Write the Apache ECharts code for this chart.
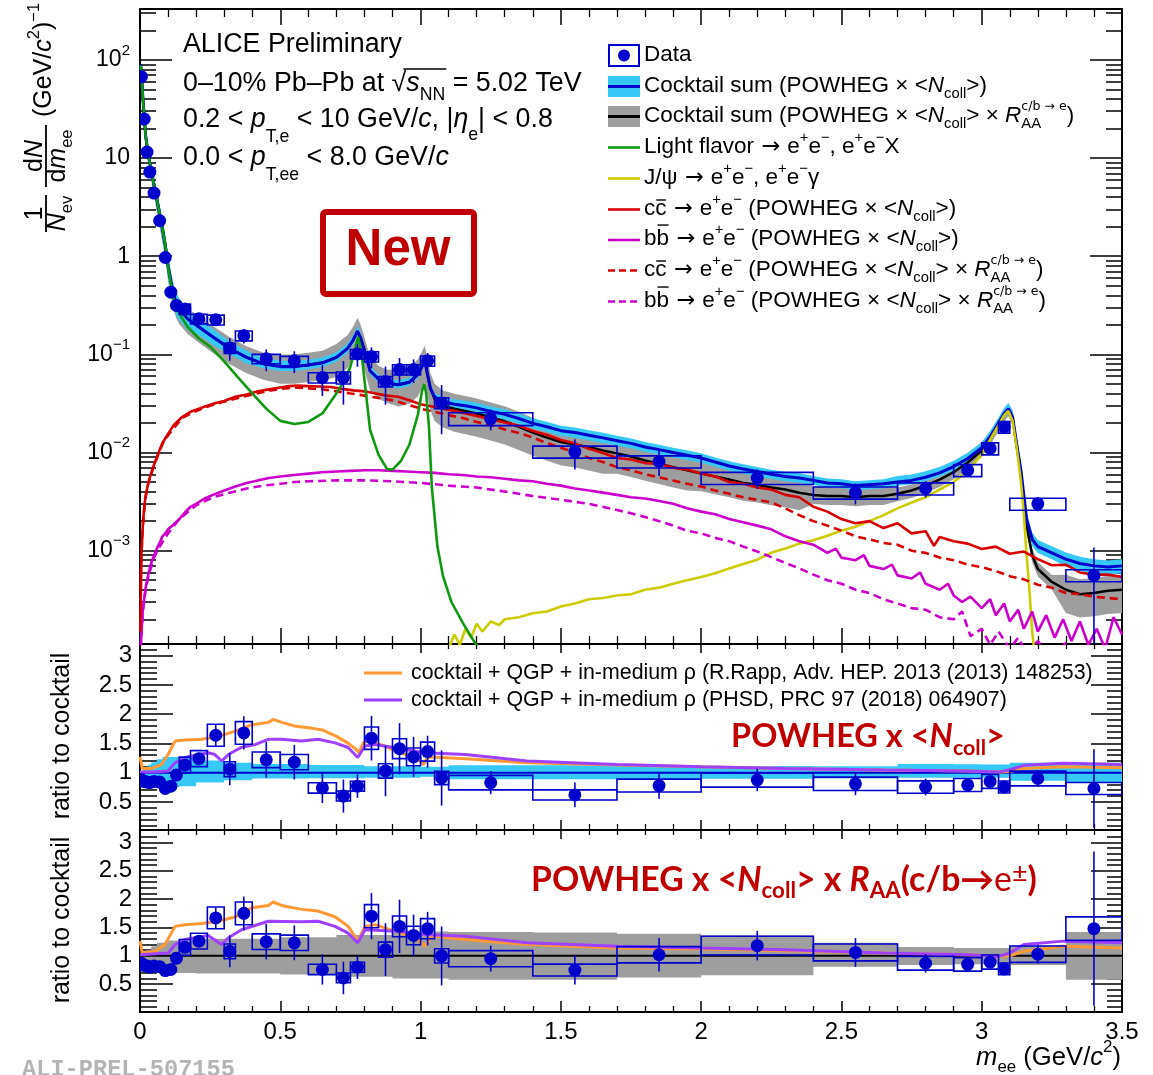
<!DOCTYPE html>
<html>
<head>
<meta charset="utf-8">
<title>ALICE dielectron spectrum</title>
<script src="https://cdn.jsdelivr.net/npm/echarts@6/dist/echarts.min.js"></script>
<style>
html,body{margin:0;padding:0;background:#ffffff;}
#chart{width:1153px;height:1075px;}
</style>
</head>
<body>
<div id="chart"></div>
<script>
// ===================== DATA =====================
const binLo = [0,0.01,0.02,0.03,0.04,0.06,0.08,0.10,0.12,0.14,0.18,0.24,0.30,0.34,0.40,0.50,0.60,0.70,0.75,0.80,0.85,0.90,0.95,1.00,1.05,1.10,1.40,1.70,2.00,2.40,2.70,2.90,3.00,3.06,3.10,3.30];
const binHi = [0.01,0.02,0.03,0.04,0.06,0.08,0.10,0.12,0.14,0.18,0.24,0.30,0.34,0.40,0.50,0.60,0.70,0.75,0.80,0.85,0.90,0.95,1.00,1.05,1.10,1.40,1.70,2.00,2.40,2.70,2.90,3.00,3.06,3.10,3.30,3.50];
const massPt = [0.005,0.015,0.025,0.035,0.05,0.07,0.09,0.11,0.13,0.16,0.21,0.27,0.32,0.37,0.45,0.55,0.65,0.725,0.775,0.825,0.875,0.925,0.975,1.025,1.075,1.25,1.55,1.85,2.2,2.55,2.8,2.95,3.03,3.08,3.2,3.4];
const yieldData = [67.5,25,11.5,7.2,4.4,2.3,0.97,0.43,0.315,0.29,0.23,0.225,0.116,0.155,0.090,0.086,0.058,0.058,0.101,0.095,0.053,0.070,0.070,0.086,0.032,0.0221,0.0102,0.0081,0.0055,0.0039,0.0043,0.0066,0.011,0.0182,0.0030,0.00056];
const statRel = [0.02,0.02,0.02,0.03,0.03,0.03,0.04,0.04,0.04,0.04,0.08,0.11,0.26,0.17,0.25,0.25,0.35,0.47,0.26,0.24,0.42,0.31,0.27,0.20,0.52,0.24,0.34,0.29,0.22,0.24,0.19,0.12,0.10,0.10,0.16,0.92];
const sysRel = [0.04,0.04,0.04,0.04,0.05,0.06,0.07,0.08,0.09,0.12,0.11,0.115,0.12,0.115,0.11,0.11,0.12,0.14,0.11,0.12,0.12,0.12,0.12,0.12,0.125,0.15,0.14,0.14,0.14,0.14,0.14,0.14,0.14,0.135,0.14,0.14];
const ratioPowheg = [0.88,0.85,0.84,0.83,0.85,0.84,0.73,0.77,0.96,1.13,1.24,1.64,1.06,1.68,1.22,1.18,0.74,0.60,0.77,1.59,1.03,1.41,1.27,1.36,0.91,0.83,0.62,0.78,0.875,0.81,0.755,0.79,0.85,0.755,0.90,0.73];
const ratioRaa = [0.87,0.83,0.82,0.80,0.82,0.81,0.74,0.76,0.96,1.15,1.26,1.67,1.08,1.75,1.25,1.23,0.76,0.61,0.80,1.70,1.11,1.52,1.36,1.48,1.0,0.95,0.75,1.02,1.18,1.06,0.87,0.85,0.89,0.77,1.03,1.48];

// cocktail sums (same mass grid for both)
const sumX = [0.002,0.005,0.01,0.02,0.03,0.04,0.05,0.06,0.07,0.08,0.09,0.10,0.11,0.12,0.13,0.14,0.17,0.21,0.26,0.32,0.38,0.44,0.50,0.55,0.60,0.65,0.70,0.74,0.76,0.775,0.785,0.80,0.82,0.85,0.88,0.92,0.96,0.99,1.005,1.015,1.025,1.035,1.05,1.08,1.12,1.16,1.2,1.25,1.3,1.35,1.4,1.45,1.5,1.55,1.6,1.65,1.7,1.75,1.8,1.85,1.9,1.95,2.0,2.05,2.1,2.15,2.2,2.25,2.3,2.35,2.4,2.45,2.5,2.55,2.6,2.65,2.7,2.75,2.8,2.85,2.9,2.95,3.0,3.03,3.06,3.08,3.095,3.11,3.125,3.14,3.16,3.18,3.2,3.25,3.3,3.35,3.4,3.45,3.5];
const sumPowheg = [90,75,42,17,10.5,7.5,5.3,3.8,2.7,1.9,1.3,0.80,0.55,0.40,0.33,0.29,0.23,0.19,0.150,0.115,0.093,0.080,0.075,0.075,0.078,0.082,0.093,0.115,0.140,0.172,0.150,0.110,0.068,0.056,0.051,0.049,0.052,0.062,0.075,0.086,0.062,0.045,0.037,0.033,0.031,0.030,0.0285,0.0262,0.0245,0.0222,0.0198,0.0183,0.0167,0.0160,0.0150,0.0141,0.0132,0.0124,0.0114,0.0107,0.0100,0.0094,0.0088,0.0080,0.0073,0.0068,0.0064,0.0060,0.0057,0.0055,0.0052,0.0049,0.0048,0.0046,0.0047,0.0048,0.0050,0.0052,0.0056,0.0062,0.0072,0.0087,0.0112,0.0145,0.0200,0.0250,0.0280,0.0230,0.0120,0.0065,0.0021,0.0013,0.0011,0.00095,0.00082,0.00074,0.00070,0.00068,0.00070];
const sumRaa = [90,75,42,17,10.5,7.5,5.3,3.8,2.7,1.9,1.3,0.80,0.55,0.40,0.33,0.29,0.23,0.19,0.150,0.115,0.093,0.080,0.075,0.075,0.078,0.082,0.093,0.115,0.140,0.172,0.150,0.110,0.068,0.056,0.051,0.049,0.052,0.062,0.075,0.086,0.062,0.045,0.035,0.030,0.028,0.0265,0.0250,0.0228,0.0208,0.0183,0.0160,0.0142,0.0128,0.0121,0.0113,0.0105,0.0098,0.0091,0.0083,0.0077,0.0071,0.0066,0.0061,0.0057,0.0053,0.0049,0.0047,0.0044,0.0042,0.0039,0.0037,0.0036,0.0036,0.0035,0.0036,0.0036,0.0038,0.0041,0.0046,0.0053,0.0063,0.0079,0.0105,0.0140,0.0195,0.0245,0.0275,0.0225,0.0115,0.0060,0.0018,0.0009,0.00065,0.00048,0.00040,0.00036,0.00037,0.00039,0.00040];

// relative uncertainty bands (step segments), POWHEG x Ncoll and with RAA
const bandPowEdges = [0,0.01,0.02,0.03,0.04,0.06,0.08,0.14,0.2,0.3,0.4,0.6,0.8,1.0,1.1,1.4,1.7,2.0,2.4,2.7,2.9,3.0,3.1,3.3,3.5];
const bandPowHi = [1.02,1.06,1.1,1.14,1.18,1.23,1.27,1.26,1.21,1.17,1.15,1.13,1.11,1.1,1.125,1.125,1.12,1.115,1.11,1.15,1.145,1.14,1.17,1.17];
const bandPowLo = [0.98,0.95,0.92,0.9,0.86,0.81,0.75,0.77,0.83,0.87,0.9,0.905,0.915,0.93,0.886,0.886,0.89,0.895,0.9,0.915,0.915,0.915,0.86,0.84];
const bandRaaEdges = [0,0.01,0.02,0.04,0.06,0.1,0.2,0.5,0.7,0.9,1.1,1.4,1.7,2.0,2.4,2.7,2.9,3.1,3.3,3.5];
const bandRaaHi = [1.02,1.05,1.1,1.17,1.23,1.27,1.3,1.33,1.37,1.43,1.42,1.41,1.39,1.36,1.23,1.155,1.14,1.18,1.42];
const bandRaaLo = [0.98,0.94,0.88,0.8,0.73,0.7,0.69,0.67,0.63,0.6,0.58,0.58,0.62,0.66,0.81,0.84,0.85,0.84,0.58];

// light flavour
const lfX = [0.002,0.005,0.01,0.02,0.03,0.04,0.05,0.06,0.07,0.08,0.09,0.10,0.11,0.12,0.13,0.14,0.17,0.21,0.25,0.3,0.35,0.4,0.45,0.5,0.55,0.6,0.65,0.7,0.73,0.75,0.765,0.778,0.79,0.80,0.82,0.85,0.88,0.9,0.93,0.96,0.99,1.005,1.013,1.02,1.03,1.04,1.06,1.08,1.11,1.15,1.19,1.22];
const lfY = [88,75,42,17,10.5,7.5,5.3,3.8,2.7,1.9,1.3,0.78,0.52,0.37,0.30,0.26,0.19,0.145,0.12,0.085,0.058,0.040,0.028,0.021,0.0195,0.0205,0.025,0.040,0.055,0.075,0.11,0.15,0.10,0.055,0.017,0.0095,0.0068,0.0067,0.0082,0.012,0.024,0.042,0.050,0.040,0.018,0.0045,0.0011,0.00055,0.00030,0.000185,0.00012,0.00009];
// J/psi
const jpsiX = [1.10,1.12,1.14,1.16,1.18,1.2,1.22,1.25,1.28,1.3,1.35,1.4,1.45,1.5,1.55,1.6,1.65,1.7,1.75,1.8,1.85,1.9,1.95,2.0,2.05,2.1,2.15,2.2,2.25,2.3,2.35,2.4,2.45,2.5,2.55,2.6,2.65,2.7,2.75,2.8,2.85,2.9,2.95,3.0,3.03,3.06,3.08,3.095,3.11,3.125,3.14,3.15,3.16,3.17,3.18,3.19];
const jpsiY = [1.0e-4,1.4e-4,1.1e-4,1.6e-4,1.3e-4,1.8e-4,1.5e-4,1.9e-4,1.75e-4,2.0e-4,2.1e-4,2.3e-4,2.4e-4,2.7e-4,2.9e-4,3.2e-4,3.3e-4,3.5e-4,3.6e-4,4.0e-4,4.2e-4,4.6e-4,5.0e-4,5.4e-4,5.9e-4,6.6e-4,7.3e-4,8.1e-4,9.5e-4,1.05e-3,1.18e-3,1.28e-3,1.42e-3,1.6e-3,1.75e-3,2.0e-3,2.3e-3,2.7e-3,3.1e-3,3.5e-3,4.2e-3,5.0e-3,6.5e-3,9.5e-3,0.0135,0.019,0.024,0.0265,0.021,0.011,0.005,0.0024,9e-4,4e-4,1.5e-4,8e-5];
// c cbar (POWHEG x Ncoll)
const ccX = [0.001,0.005,0.01,0.015,0.02,0.03,0.04,0.05,0.065,0.08,0.1,0.12,0.15,0.18,0.21,0.24,0.27,0.3,0.34,0.38,0.42,0.46,0.5,0.53,0.56,0.6,0.64,0.68,0.72,0.76,0.8,0.84,0.88,0.92,0.96,1.0,1.04,1.08,1.12,1.16,1.2,1.25,1.3,1.35,1.4,1.45,1.5,1.55,1.6,1.65,1.7,1.75,1.8,1.85,1.9,1.95,2.0,2.05,2.1,2.15,2.2,2.25,2.3,2.35,2.4,2.45,2.5,2.55,2.6,2.65,2.7,2.75,2.8,2.83,2.85,2.9,2.95,3.0,3.05,3.1,3.15,3.2,3.25,3.3,3.35,3.4,3.45,3.5];
const ccY = [1.5e-4,9e-4,0.0018,0.0028,0.0036,0.0050,0.0062,0.0075,0.0098,0.0125,0.0155,0.019,0.023,0.026,0.028,0.030,0.032,0.0335,0.037,0.039,0.042,0.044,0.046,0.0475,0.048,0.0475,0.047,0.0465,0.0445,0.043,0.042,0.040,0.038,0.037,0.034,0.031,0.0295,0.028,0.0265,0.025,0.0235,0.0218,0.0202,0.0187,0.0166,0.0152,0.0134,0.0124,0.0109,0.0099,0.0088,0.0085,0.0078,0.0077,0.0070,0.0067,0.0061,0.0057,0.0050,0.0048,0.0044,0.0042,0.0037,0.0035,0.0028,0.0025,0.0021,0.0019,0.0020,0.00170,0.0019,0.00150,0.00158,0.00112,0.00138,0.00125,0.00118,0.00104,0.00110,0.00093,0.00098,0.00082,0.00071,0.00072,0.00060,0.00057,0.00057,0.00054];
// b bbar (POWHEG x Ncoll)
const bbX = [0.002,0.01,0.02,0.03,0.04,0.05,0.06,0.07,0.08,0.09,0.1,0.12,0.14,0.16,0.18,0.2,0.23,0.26,0.3,0.34,0.38,0.42,0.46,0.5,0.55,0.6,0.65,0.7,0.75,0.8,0.85,0.9,0.95,1.0,1.05,1.1,1.15,1.2,1.25,1.3,1.35,1.4,1.45,1.5,1.55,1.6,1.65,1.7,1.75,1.8,1.85,1.9,1.95,2.0,2.05,2.1,2.15,2.2,2.25,2.3,2.35,2.4,2.45,2.48,2.5,2.55,2.58,2.6,2.65,2.68,2.7,2.75,2.78,2.8,2.85,2.88,2.9,2.93,2.96,3.0,3.03,3.05,3.08,3.1,3.13,3.15,3.18,3.2,3.23,3.26,3.29,3.32,3.35,3.38,3.41,3.44,3.47,3.5];
const bbY = [1e-4,2.5e-4,4.2e-4,5.8e-4,7.5e-4,9e-4,1.05e-3,1.2e-3,1.4e-3,1.5e-3,1.65e-3,1.85e-3,2.1e-3,2.45e-3,2.8e-3,3.0e-3,3.4e-3,3.7e-3,4.1e-3,4.5e-3,4.9e-3,5.2e-3,5.5e-3,5.7e-3,5.9e-3,6.1e-3,6.3e-3,6.4e-3,6.5e-3,6.6e-3,6.6e-3,6.5e-3,6.4e-3,6.3e-3,6.2e-3,6.0e-3,5.9e-3,5.7e-3,5.6e-3,5.4e-3,5.2e-3,5.1e-3,4.8e-3,4.6e-3,4.3e-3,4.1e-3,3.9e-3,3.7e-3,3.5e-3,3.4e-3,3.2e-3,3.0e-3,2.7e-3,2.5e-3,2.35e-3,2.1e-3,1.95e-3,1.8e-3,1.65e-3,1.4e-3,1.25e-3,1.15e-3,9.5e-4,1.05e-3,8.5e-4,8.0e-4,9.0e-4,7.0e-4,6.5e-4,7.2e-4,5.6e-4,5.2e-4,6.0e-4,4.6e-4,4.0e-4,4.6e-4,3.5e-4,3.0e-4,3.4e-4,2.6e-4,3.2e-4,2.2e-4,2.9e-4,1.9e-4,2.5e-4,1.6e-4,2.4e-4,1.5e-4,2.2e-4,1.3e-4,2.0e-4,1.2e-4,1.9e-4,1.1e-4,1.6e-4,1.0e-4,2.1e-4,1.4e-4];
// c cbar with RAA
const ccRaaX = [0.002,0.005,0.01,0.02,0.03,0.05,0.08,0.1,0.15,0.2,0.25,0.3,0.35,0.4,0.45,0.5,0.55,0.6,0.65,0.7,0.75,0.8,0.85,0.9,0.95,1.0,1.05,1.1,1.15,1.2,1.25,1.3,1.35,1.4,1.45,1.5,1.55,1.6,1.65,1.7,1.75,1.8,1.85,1.9,1.95,2.0,2.05,2.1,2.15,2.2,2.25,2.3,2.35,2.4,2.45,2.5,2.55,2.6,2.65,2.7,2.75,2.8,2.85,2.9,2.95,3.0,3.05,3.1,3.15,3.2,3.25,3.3,3.35,3.4,3.45,3.5];
const ccRaaY = [4e-4,9e-4,0.0018,0.0035,0.0049,0.0074,0.0122,0.0150,0.0225,0.0265,0.030,0.033,0.036,0.039,0.042,0.0445,0.046,0.045,0.044,0.042,0.040,0.038,0.036,0.034,0.031,0.028,0.026,0.024,0.0225,0.0205,0.019,0.0172,0.0158,0.0142,0.0125,0.0112,0.0100,0.0088,0.0080,0.0071,0.0066,0.0060,0.0056,0.0052,0.0048,0.0045,0.0041,0.0038,0.0035,0.0033,0.0031,0.0027,0.0023,0.0020,0.0018,0.0016,0.0014,0.0013,0.0012,0.00115,0.00100,0.00095,0.00085,0.00080,0.00072,0.00068,0.00062,0.00055,0.00051,0.00045,0.00042,0.00037,0.00036,0.00034,0.00033,0.00032];
// b bbar with RAA
const bbRaaX = [0.002,0.01,0.02,0.03,0.05,0.07,0.1,0.14,0.2,0.26,0.32,0.38,0.44,0.5,0.55,0.6,0.7,0.8,0.9,1.0,1.1,1.2,1.3,1.4,1.5,1.6,1.7,1.75,1.8,1.85,1.9,1.95,2.0,2.05,2.1,2.15,2.2,2.25,2.3,2.35,2.4,2.45,2.5,2.55,2.6,2.65,2.7,2.75,2.8,2.85,2.9,2.93,2.96,3.0,3.03,3.06,3.1,3.13,3.16,3.2,3.25,3.3,3.35,3.4,3.45,3.5];
const bbRaaY = [1e-4,2.4e-4,4e-4,5.5e-4,8.5e-4,1.1e-3,1.5e-3,2.1e-3,2.9e-3,3.5e-3,3.9e-3,4.3e-3,4.6e-3,4.8e-3,5.0e-3,5.1e-3,5.2e-3,5.2e-3,5.1e-3,4.9e-3,4.6e-3,4.4e-3,4.0e-3,3.6e-3,3.3e-3,3.0e-3,2.6e-3,2.4e-3,2.2e-3,2.0e-3,1.8e-3,1.6e-3,1.5e-3,1.35e-3,1.25e-3,1.1e-3,9.8e-4,8.6e-4,7.5e-4,6.6e-4,5.7e-4,5.0e-4,4.6e-4,4.0e-4,3.7e-4,3.2e-4,2.9e-4,2.6e-4,2.5e-4,2.1e-4,2.0e-4,2.4e-4,1.35e-4,1.6e-4,1.1e-4,1.5e-4,1.0e-4,1.3e-4,9e-5,1.2e-4,8e-5,1.15e-4,8e-5,1.0e-4,7e-5,9e-5];

// model ratios (Rapp = orange, PHSD = purple)
const rappPowX = [0.0,0.008,0.04,0.077,0.10,0.125,0.16,0.22,0.28,0.34,0.40,0.457,0.475,0.505,0.55,0.60,0.65,0.70,0.74,0.77,0.78,0.796,0.814,0.87,0.93,0.99,1.01,1.027,1.075,1.16,1.38,1.7,2.0,2.3,2.65,2.95,3.06,3.1,3.15,3.29,3.5];
const rappPowY = [1.27,1.07,1.07,1.14,1.31,1.54,1.56,1.57,1.62,1.71,1.82,1.86,1.91,1.86,1.80,1.77,1.73,1.62,1.51,1.40,1.34,1.51,1.54,1.46,1.34,1.23,1.14,1.27,1.26,1.24,1.17,1.13,1.10,1.07,1.045,1.03,1.01,1.02,1.07,1.10,1.085];
const phsdPowX = [0.0,0.05,0.10,0.125,0.16,0.21,0.243,0.267,0.291,0.315,0.36,0.41,0.457,0.505,0.576,0.635,0.695,0.742,0.776,0.802,0.837,0.93,1.015,1.16,1.38,1.7,2.0,2.3,2.65,2.95,3.06,3.1,3.15,3.29,3.5];
const phsdPowY = [1.01,1.01,1.03,1.17,1.26,1.31,1.34,1.31,1.20,1.31,1.43,1.48,1.57,1.57,1.54,1.57,1.51,1.43,1.26,1.455,1.48,1.41,1.34,1.31,1.20,1.14,1.10,1.07,1.045,1.03,1.01,1.05,1.125,1.16,1.14];
const rappRaaX = [0.0,0.008,0.054,0.089,0.125,0.16,0.22,0.28,0.34,0.40,0.457,0.475,0.505,0.576,0.635,0.695,0.742,0.776,0.802,0.837,0.93,0.99,1.015,1.039,1.16,1.38,1.7,2.0,2.3,2.65,2.95,3.06,3.1,3.15,3.29,3.5];
const rappRaaY = [1.26,1.05,1.08,1.2,1.52,1.55,1.57,1.61,1.69,1.85,1.89,1.95,1.89,1.82,1.79,1.69,1.52,1.26,1.52,1.55,1.40,1.29,1.17,1.35,1.29,1.2,1.14,1.12,1.09,1.05,1.02,0.99,1.0,1.08,1.17,1.14];
const phsdRaaX = [0.0,0.101,0.125,0.16,0.243,0.291,0.315,0.362,0.457,0.576,0.635,0.695,0.742,0.776,0.802,0.93,1.015,1.16,1.38,1.7,2.0,2.3,2.65,2.95,3.06,3.1,3.15,3.29,3.5];
const phsdRaaY = [1.02,1.05,1.2,1.29,1.36,1.2,1.32,1.46,1.61,1.60,1.61,1.52,1.40,1.23,1.46,1.43,1.375,1.345,1.23,1.17,1.14,1.11,1.05,1.02,0.99,1.05,1.2,1.26,1.23];

// axis ticks / labels
const topMajorTicks = [1e-3,1e-2,1e-1,1,10,100];
const ratioMajorTicks = [0.5,1,1.5,2,2.5,3];
const YMIN = 1.12e-4, YMAX = 330;

// ===================== STYLE / HELPERS =====================
const F = '"Liberation Sans", Arial, Helvetica, sans-serif';
const DJ = '"DejaVu Sans", sans-serif';
const BLUE = '#0000cc', CYAN = '#36c8f6', GRAY = '#9e9e9e';
const GREEN = '#0f990f', YELLOW = '#cccc00', RED = '#d60000', MAG = '#cc00cc';
const ORANGE = '#ff9933', PURPLE = '#a040ff', DARKRED = '#c00000';

const topMinorTicks = [];
for (let e = -4; e <= 2; e++) for (let m = 2; m <= 9; m++) { const v = m * Math.pow(10, e); if (v > YMIN && v < YMAX) topMinorTicks.push(v); }
const ratioMinorTicks = [];
for (let k = 1; k <= 31; k++) if (k % 5) ratioMinorTicks.push(k / 10);

const mctx = document.createElement('canvas').getContext('2d');
function tw(t, font) { mctx.font = font; return mctx.measureText(t).width; }

// parts: [text, kinds, dyOverride, sizeScale, familyOverride]
function seq(x0, y0, fs, parts, o) {
  o = o || {};
  const col = o.col || '#000';
  const ss = o.ss || 0.66;
  const sdy = o.sdy !== undefined ? o.sdy : 0.36 * fs;
  const pdy = o.pdy !== undefined ? o.pdy : -0.40 * fs;
  let cx = x0, pend = null;
  const els = [], pos = [], ws = [];
  parts.forEach(p => {
    const t = p[0], k = p[1] || '';
    const fam = p[4] || o.fam || F;
    const isS = k.indexOf('s') >= 0, isP = k.indexOf('p') >= 0;
    const size = (isS || isP) ? fs * (p[3] || ss) : fs * (p[3] || 1);
    const it = k.indexOf('i') >= 0;
    const bd = k.indexOf('R') >= 0 ? false : (!!o.bold || k.indexOf('B') >= 0);
    const fStyle = it ? 'italic' : 'normal', fWeight = bd ? 'bold' : 'normal';
    const w = tw(t, fStyle + ' ' + fWeight + ' ' + size + 'px ' + fam);
    let dy = isS ? sdy : isP ? pdy : 0;
    if (p[2] !== undefined && p[2] !== null) dy = p[2];
    els.push({type: 'text', x: cx, y: y0 + dy, silent: true, z: 100,
      style: {text: t, fill: col, fontSize: size, fontFamily: fam, fontStyle: fStyle, fontWeight: fWeight, align: 'left', verticalAlign: 'middle'}});
    if (k.indexOf('o') >= 0 || k.indexOf('q') >= 0) {
      const oy = y0 - (k.indexOf('o') >= 0 ? 0.62 : 0.40) * fs;
      els.push({type: 'line', silent: true, z: 100, shape: {x1: cx + 1, y1: oy, x2: cx + w - 0.5, y2: oy}, style: {stroke: col, lineWidth: 1.4}});
    }
    pos.push(cx); ws.push(w);
    if (k.indexOf('k') >= 0) pend = cx + w;
    else { let nx = cx + w; if (pend !== null) { nx = Math.max(nx, pend); pend = null; } cx = nx; }
  });
  return {els, end: cx, pos, ws, width: cx - x0};
}
function place(anchor, x, y, fs, parts, o) {
  const m = seq(0, 0, fs, parts, o);
  const x0 = anchor === 'c' ? x - m.width / 2 : anchor === 'r' ? x - m.width : x;
  return seq(x0, y, fs, parts, o);
}
function fit(parts, o, target, fs0) { return fs0 * target / seq(0, 0, fs0, parts, o).width; }
function segIndex(edges, x) {
  for (let i = 0; i < edges.length - 1; i++) if (x >= edges[i] && x < edges[i + 1]) return i;
  return edges.length - 2;
}

// ===================== AXES =====================
function xAx(g, pos, showLab, majL, minL) {
  return {gridIndex: g, type: 'value', min: 0, max: 3.5, interval: 0.5, position: pos,
    axisLine: {show: true, onZero: false, lineStyle: {color: '#000', width: 2}},
    axisTick: {show: true, inside: true, length: majL, lineStyle: {color: '#000', width: 1.5}},
    minorTick: {show: true, splitNumber: 5, length: minL, lineStyle: {color: '#000', width: 1.3}},
    axisLabel: {show: showLab, color: '#000', fontSize: 24, fontFamily: F, margin: 8,
      formatter: v => String(Math.round(v * 10) / 10)},
    splitLine: {show: false}, minorSplitLine: {show: false}};
}
function yAx(g, pos, type, min, max, ticks, len, labels, line) {
  const a = {gridIndex: g, type: type, min: min, max: max, position: pos,
    axisLine: {show: line, onZero: false, lineStyle: {color: '#000', width: 2}},
    axisTick: {show: true, inside: true, length: len, customValues: ticks, lineStyle: {color: '#000', width: 1.5}},
    axisLabel: {show: false}, splitLine: {show: false}, minorTick: {show: false}, minorSplitLine: {show: false}};
  if (type === 'log') a.logBase = 10;
  if (labels) a.axisLabel = labels;
  return a;
}
const logLabels = {show: true, customValues: topMajorTicks, margin: 10,
  formatter: v => { const e = Math.round(Math.log10(v)); if (e === 0) return '{b|1}'; if (e === 1) return '{b|10}'; return '{b|10}{s|' + (e < 0 ? '\u2212' + (-e) : e) + '}'; },
  rich: {b: {fontSize: 23, fontFamily: F, color: '#000', lineHeight: 34}, s: {fontSize: 15, fontFamily: F, color: '#000', lineHeight: 14, verticalAlign: 'top'}}};
const ratioLabels = {show: true, customValues: ratioMajorTicks, margin: 8, color: '#000', fontSize: 24, fontFamily: F,
  formatter: v => String(v)};

const xAxes = [
  xAx(0, 'bottom', false, 16, 8), xAx(0, 'top', false, 16, 8),
  xAx(1, 'bottom', false, 10, 6), xAx(1, 'top', false, 9, 5),
  xAx(2, 'bottom', true, 11, 6), xAx(2, 'top', false, 9, 5)
];
const yAxes = [
  yAx(0, 'left', 'log', YMIN, YMAX, topMajorTicks, 32, logLabels, true),
  yAx(0, 'left', 'log', YMIN, YMAX, topMinorTicks, 16, null, false),
  yAx(0, 'right', 'log', YMIN, YMAX, topMajorTicks, 32, null, true),
  yAx(0, 'right', 'log', YMIN, YMAX, topMinorTicks, 16, null, false),
  yAx(1, 'left', 'value', 0.02, 3.2, ratioMajorTicks, 33, ratioLabels, true),
  yAx(1, 'left', 'value', 0.02, 3.2, ratioMinorTicks, 17, null, false),
  yAx(1, 'right', 'value', 0.02, 3.2, ratioMajorTicks, 31, null, true),
  yAx(1, 'right', 'value', 0.02, 3.2, ratioMinorTicks, 15, null, false),
  yAx(2, 'left', 'value', 0.01, 3.22, ratioMajorTicks, 33, ratioLabels, true),
  yAx(2, 'left', 'value', 0.01, 3.22, ratioMinorTicks, 17, null, false),
  yAx(2, 'right', 'value', 0.01, 3.22, ratioMajorTicks, 31, null, true),
  yAx(2, 'right', 'value', 0.01, 3.22, ratioMinorTicks, 15, null, false)
];

// ===================== SERIES =====================
function lineS(xs, ys, color, width, xi, yi, z, dash) {
  return {type: 'line', xAxisIndex: xi, yAxisIndex: yi, data: xs.map((x, i) => [x, ys[i]]),
    showSymbol: false, symbol: 'none', silent: true, z: z, clip: true,
    lineStyle: {color: color, width: width, type: dash || 'solid', cap: 'butt'}};
}
function polyS(points, color, xi, yi, z) {
  return {type: 'custom', xAxisIndex: xi, yAxisIndex: yi, z: z, silent: true, clip: true,
    data: [[1, 1]], encode: {x: 0, y: 1},
    renderItem: (params, api) => ({type: 'polygon', shape: {points: points.map(p => api.coord(p))}, style: {fill: color}})};
}
function bandFromCurve(xs, ys, edges, hi, lo) {
  const up = [], dn = [];
  xs.forEach((x, i) => { const s = segIndex(edges, x); up.push([x, ys[i] * hi[s]]); dn.push([x, ys[i] * lo[s]]); });
  return up.concat(dn.reverse());
}
function bandSteps(edges, hi, lo) {
  const up = [], dn = [];
  hi.forEach((h, i) => { up.push([edges[i], h], [edges[i + 1], h]); dn.push([edges[i], lo[i]], [edges[i + 1], lo[i]]); });
  return up.concat(dn.reverse());
}
function renderPts(params, api) {
  const c = api.coord([api.value(0), api.value(1)]);
  const b1 = api.coord([api.value(2), api.value(7)]);
  const b2 = api.coord([api.value(3), api.value(6)]);
  const e1 = api.coord([api.value(0), api.value(4)]);
  const e2 = api.coord([api.value(0), api.value(5)]);
  return {type: 'group', children: [
    {type: 'rect', shape: {x: Math.min(b1[0], b2[0]), y: Math.min(b1[1], b2[1]), width: Math.abs(b2[0] - b1[0]), height: Math.abs(b2[1] - b1[1])}, style: {fill: 'none', stroke: BLUE, lineWidth: 1.6}},
    {type: 'line', shape: {x1: e1[0], y1: e1[1], x2: e2[0], y2: e2[1]}, style: {stroke: BLUE, lineWidth: 1.6}},
    {type: 'circle', shape: {cx: c[0], cy: c[1], r: 6.5}, style: {fill: BLUE}}
  ]};
}
function ptsS(vals, xi, yi) {
  return {type: 'custom', xAxisIndex: xi, yAxisIndex: yi, z: 20, silent: true, clip: true,
    encode: {x: 0, y: 1}, renderItem: renderPts,
    data: massPt.map((x, i) => [x, vals[i], binLo[i], binHi[i], Math.max(vals[i] * (1 - statRel[i]), 1e-7), vals[i] * (1 + statRel[i]), vals[i] * (1 - sysRel[i]), vals[i] * (1 + sysRel[i])])};
}

const series = [
  // top panel
  polyS(bandFromCurve(sumX, sumRaa, bandRaaEdges, bandRaaHi, bandRaaLo), GRAY, 0, 0, 1),
  polyS(bandFromCurve(sumX, sumPowheg, bandPowEdges, bandPowHi, bandPowLo), CYAN, 0, 0, 2),
  lineS(sumX, sumRaa, '#000', 2.5, 0, 0, 3),
  lineS(sumX, sumPowheg, BLUE, 3, 0, 0, 4),
  lineS(jpsiX, jpsiY, YELLOW, 2.6, 0, 0, 5),
  lineS(bbRaaX, bbRaaY, MAG, 2.6, 0, 0, 5, [8, 5]),
  lineS(ccRaaX, ccRaaY, RED, 2.6, 0, 0, 5, [8, 5]),
  lineS(bbX, bbY, MAG, 2.6, 0, 0, 5),
  lineS(ccX, ccY, RED, 2.6, 0, 0, 5),
  lineS(lfX, lfY, GREEN, 2.6, 0, 0, 6),
  ptsS(yieldData, 0, 0),
  // middle panel
  polyS(bandSteps(bandPowEdges, bandPowHi, bandPowLo), CYAN, 2, 4, 1),
  lineS([0, 3.5], [1, 1], BLUE, 2, 2, 4, 3),
  lineS(rappPowX, rappPowY, ORANGE, 3, 2, 4, 4),
  lineS(phsdPowX, phsdPowY, PURPLE, 3, 2, 4, 4),
  ptsS(ratioPowheg, 2, 4),
  // bottom panel
  polyS(bandSteps(bandRaaEdges, bandRaaHi, bandRaaLo), GRAY, 4, 8, 1),
  lineS([0, 3.5], [1, 1], '#000', 2, 4, 8, 3),
  lineS(rappRaaX, rappRaaY, ORANGE, 3, 4, 8, 4),
  lineS(phsdRaaX, phsdRaaY, PURPLE, 3, 4, 8, 4),
  ptsS(ratioRaa, 4, 8)
];

// ===================== TEXT / LEGENDS (graphic) =====================
const G = [];
function add(r) { r.els.forEach(e => G.push(e)); return r; }

// header
const h1 = [['ALICE Preliminary']];
const fsH = fit(h1, {}, 219, 26);
add(seq(183, 45, fsH, h1));
const r2 = add(seq(183, 84, fsH, [['0\u201310% Pb\u2013Pb at '], ['\u221A'], ['s', 'i'], ['NN', 's', 11], [' = 5.02 TeV']]));
G.push({type: 'line', z: 100, silent: true, shape: {x1: r2.pos[1] + r2.ws[1] * 0.8, y1: 84 - 0.56 * fsH, x2: r2.pos[3] + r2.ws[3] + 1, y2: 84 - 0.56 * fsH}, style: {stroke: '#000', lineWidth: 1.4}});
add(seq(183, 120, fsH, [['0.2 < '], ['p', 'i'], ['T,e', 's', 17], [' < 10 GeV/'], ['c', 'i'], [', |'], ['\u03B7', 'i'], ['e', 's', 15], ['| < 0.8']]));
add(seq(183, 158, fsH, [['0.0 < '], ['p', 'i'], ['T,ee', 's', 17], [' < 8.0 GeV/'], ['c', 'i']]));

// "New" box
G.push({type: 'rect', z: 100, silent: true, shape: {x: 323, y: 212, width: 151, height: 82, r: 3}, style: {fill: 'none', stroke: DARKRED, lineWidth: 6}});
G.push({type: 'text', z: 100, silent: true, x: 398, y: 251, style: {text: 'New', fill: DARKRED, fontSize: 51, fontWeight: 'bold', fontFamily: F, align: 'center', verticalAlign: 'middle'}});

// legend (top panel)
const ARR = [' \u2192 ', '', null, 1, DJ];
const Nc = [['N', 'i'], ['coll', 's']];
const RAA = [['R', 'i'], ['AA', 'sk'], ['c/b \u2192 e', 'p', null, 0.56, DJ], [')']];
const epm = [['e'], ['+', 'p'], ['e'], ['\u2212', 'p']];
const legRows = [
  [['Data']],
  [['Cocktail sum (POWHEG \u00D7 <']].concat(Nc, [['>)']]),
  [['Cocktail sum (POWHEG \u00D7 <']].concat(Nc, [['> \u00D7 ']], RAA),
  [['Light flavor'], ARR].concat(epm, [[', ']], epm, [['X']]),
  [['J/\u03C8'], ARR].concat(epm, [[', ']], epm, [['\u03B3']]),
  [['c'], ['c', 'q'], ARR].concat(epm, [[' (POWHEG \u00D7 <']], Nc, [['>)']]),
  [['b'], ['b', 'o'], ARR].concat(epm, [[' (POWHEG \u00D7 <']], Nc, [['>)']]),
  [['c'], ['c', 'q'], ARR].concat(epm, [[' (POWHEG \u00D7 <']], Nc, [['> \u00D7 ']], RAA),
  [['b'], ['b', 'o'], ARR].concat(epm, [[' (POWHEG \u00D7 <']], Nc, [['> \u00D7 ']], RAA)
];
const legY = [55, 86, 116, 147, 178, 209, 239, 270, 301];
const fsL = fit(legRows[1], {}, 343, 22);
legRows.forEach((r, i) => add(seq(644, legY[i], fsL, r, {sdy: 0.36 * fsL, pdy: -0.42 * fsL})));
// legend markers
G.push({type: 'rect', z: 100, silent: true, shape: {x: 609, y: 45, width: 30, height: 21}, style: {fill: 'none', stroke: BLUE, lineWidth: 2}});
G.push({type: 'circle', z: 101, silent: true, shape: {cx: 624, cy: 55.5, r: 6}, style: {fill: BLUE}});
G.push({type: 'rect', z: 100, silent: true, shape: {x: 608, y: 76, width: 32, height: 21}, style: {fill: CYAN}});
G.push({type: 'line', z: 101, silent: true, shape: {x1: 608, y1: 86.5, x2: 640, y2: 86.5}, style: {stroke: BLUE, lineWidth: 3}});
G.push({type: 'rect', z: 100, silent: true, shape: {x: 608, y: 106, width: 32, height: 21}, style: {fill: GRAY}});
G.push({type: 'line', z: 101, silent: true, shape: {x1: 608, y1: 116.5, x2: 640, y2: 116.5}, style: {stroke: '#000', lineWidth: 3}});
[[GREEN, 147.5, null], [YELLOW, 178.5, null], [RED, 209.5, null], [MAG, 240, null], [RED, 270.5, [7, 4]], [MAG, 301.5, [7, 4]]].forEach(m => {
  G.push({type: 'line', z: 101, silent: true, shape: {x1: 608, y1: m[1], x2: 640, y2: m[1]}, style: {stroke: m[0], lineWidth: 2.6, lineDash: m[2] || null}});
});

// ratio legend
const rl1 = [['cocktail + QGP + in-medium \u03C1 (R.Rapp, Adv. HEP. 2013 (2013) 148253)']];
const rl2 = [['cocktail + QGP + in-medium \u03C1 (PHSD, PRC 97 (2018) 064907)']];
const fsR = fit(rl1, {}, 682, 19);
add(seq(411, 673, fsR, rl1));
add(seq(411, 700, fsR, rl2));
G.push({type: 'line', z: 101, silent: true, shape: {x1: 364, y1: 673, x2: 402, y2: 673}, style: {stroke: ORANGE, lineWidth: 3}});
G.push({type: 'line', z: 101, silent: true, shape: {x1: 364, y1: 700, x2: 402, y2: 700}, style: {stroke: PURPLE, lineWidth: 3}});

// red panel labels
const LAB = {fam: 'Lato, "Open Sans", sans-serif', col: DARKRED, bold: true};
const lab1 = [['POWHEG x <'], ['N', 'i'], ['coll', 's'], ['>']];
const fsRed = fit(lab1, LAB, 274, 30);
add(seq(731, 737, fsRed, lab1, Object.assign({sdy: 0.33 * fsRed}, LAB)));
const lab2 = [['POWHEG x <'], ['N', 'i'], ['coll', 's'], ['> x '], ['R', 'i'], ['AA', 's'], ['(c/b'], ['\u2192'], ['e', 'R'], ['\u00B1', 'pR', null, 0.8], [')']];
const fsRed2 = fit(lab2, LAB, 506, 30);
add(seq(531, 880, fsRed2, lab2, Object.assign({sdy: 0.33 * fsRed2, pdy: -0.2 * fsRed2}, LAB)));

// y title of top panel (rotated)
const fsT = 25;
const tg = [];
function addTo(arr, r) { r.els.forEach(e => arr.push(e)); }
tg.push({type: 'text', x: 18.5, y: -11, silent: true, style: {text: '1', fill: '#000', fontSize: fsT, fontFamily: F, align: 'center', verticalAlign: 'middle'}});
tg.push({type: 'line', silent: true, shape: {x1: 0, y1: 0, x2: 37, y2: 0}, style: {stroke: '#000', lineWidth: 1.8}});
addTo(tg, place('c', 18.5, 12, fsT, [['N', 'i'], ['ev', 's']]));
addTo(tg, place('c', 76, -11, fsT, [['d'], ['N', 'i']]));
tg.push({type: 'line', silent: true, shape: {x1: 45, y1: 0, x2: 107, y2: 0}, style: {stroke: '#000', lineWidth: 1.8}});
addTo(tg, place('c', 76, 12, fsT, [['d'], ['m', 'i'], ['ee', 's']]));
addTo(tg, seq(115, -2, fsT, [['(GeV/'], ['c', 'i'], ['2', 'p'], [')'], ['\u22121', 'p']]));
G.push({type: 'group', x: 46, y: 232, rotation: Math.PI / 2, z: 100, children: tg});

// ratio axis titles
[736, 920].forEach(yc => G.push({type: 'text', z: 100, silent: true, x: 62, y: yc, rotation: Math.PI / 2,
  style: {text: 'ratio to cocktail', fill: '#000', fontSize: 25, fontFamily: F, align: 'center', verticalAlign: 'middle'}}));

// x axis title
const xt = [['m', 'i'], ['ee', 's'], [' (GeV/'], ['c', 'i'], ['2', 'p'], [')']];
const fsX = fit(xt, {}, 145, 24);
add(place('r', 1121, 1058, fsX, xt));

// watermark
const wm = [['ALI-PREL-507155']];
const WMO = {fam: '"Liberation Mono", "DejaVu Sans Mono", monospace', col: '#b4b4b4', bold: true};
add(seq(22, 1070, fit(wm, WMO, 213, 22), wm, WMO));

// ===================== CHART =====================
const chart = echarts.init(document.getElementById('chart'), null, {renderer: 'canvas'});
chart.setOption({
  animation: false,
  backgroundColor: '#ffffff',
  grid: [
    {left: 140, top: 9, width: 982, height: 635, outerBoundsMode: 'none'},
    {left: 140, top: 644, width: 982, height: 186, outerBoundsMode: 'none'},
    {left: 140, top: 830, width: 982, height: 182, outerBoundsMode: 'none'}
  ],
  xAxis: xAxes,
  yAxis: yAxes,
  series: series,
  graphic: {elements: G}
});
</script>
</body>
</html>
